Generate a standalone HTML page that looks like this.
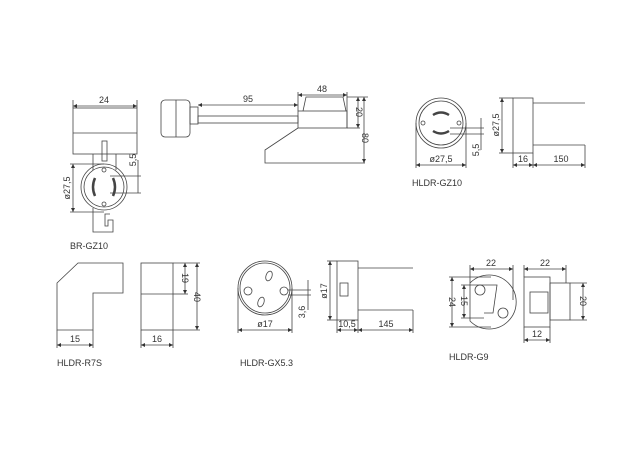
<!DOCTYPE html>
<html><head><style>html,body{margin:0;padding:0;background:#fff;width:640px;height:457px;overflow:hidden}</style></head>
<body>
<svg width="640" height="457" viewBox="0 0 640 457" xmlns="http://www.w3.org/2000/svg" font-family="Liberation Sans, sans-serif" font-size="9" fill="none" stroke="#444" stroke-width="0.8">
<defs><marker id="a" viewBox="0 0 6 6" refX="6" refY="3" markerWidth="5" markerHeight="5" orient="auto-start-reverse"><path d="M0,0L6,3L0,6z" fill="#333" stroke="none"/></marker></defs>
<g>
<!-- BR-GZ10 front -->
<rect x="73" y="108" width="64" height="46"/><line x1="73" y1="133" x2="137" y2="133"/>
<line x1="73" y1="106" x2="137" y2="106" marker-start="url(#a)" marker-end="url(#a)"/>
<line x1="73" y1="100" x2="73" y2="108"/><line x1="137" y1="100" x2="137" y2="108"/>
<rect x="102" y="141" width="5" height="20"/>
<line x1="93" y1="154" x2="93" y2="170"/><line x1="116" y1="154" x2="116" y2="170"/>
<circle cx="104" cy="187" r="23"/><circle cx="104" cy="187" r="20"/>
<path d="M95,178 q-4,9 0,18 M113,178 q4,9 0,18" stroke-width="2.5"/>
<circle cx="104" cy="170" r="2"/><circle cx="104" cy="204" r="2"/>
<path d="M93,208 V232 H113 V220 H108 V226 H105 V214 H110"/>
<line x1="73" y1="164" x2="73" y2="212" marker-start="url(#a)" marker-end="url(#a)"/>
<line x1="70" y1="164" x2="104" y2="164"/><line x1="70" y1="212" x2="104" y2="212"/>
<line x1="138" y1="160" x2="138" y2="193" /><line x1="110" y1="176" x2="141" y2="176"/><line x1="110" y1="193" x2="141" y2="193"/>
<!-- side view -->
<rect x="161" y="100" width="29" height="37" rx="4"/>
<line x1="176" y1="100" x2="176" y2="137"/>
<rect x="190" y="107" width="8" height="17"/>
<rect x="198" y="116" width="100" height="7"/>
<line x1="198" y1="105" x2="298" y2="105" marker-start="url(#a)" marker-end="url(#a)"/>
<path d="M303,111 L306,97 H343 L346,111"/>
<rect x="298" y="111" width="49" height="17"/>
<line x1="298" y1="95" x2="347" y2="95" marker-start="url(#a)" marker-end="url(#a)"/>
<line x1="298" y1="92" x2="298" y2="111"/><line x1="347" y1="92" x2="347" y2="128"/>
<path d="M298,128 L265,150 V163 H365"/>
<line x1="347" y1="97" x2="368" y2="97"/><line x1="347" y1="128" x2="360" y2="128"/>
<line x1="358" y1="97" x2="358" y2="128" marker-start="url(#a)" marker-end="url(#a)"/>
<line x1="364" y1="97" x2="364" y2="163" marker-start="url(#a)" marker-end="url(#a)"/>
<!-- HLDR-GZ10 -->
<circle cx="441" cy="123" r="25"/><circle cx="441" cy="123" r="22"/>
<path d="M433,115 q8,-5 16,0 M433,131 q8,5 16,0" stroke-width="2.5"/>
<circle cx="423" cy="123" r="2"/><circle cx="459" cy="123" r="2"/>
<line x1="416" y1="123" x2="416" y2="168"/><line x1="466" y1="123" x2="466" y2="168"/>
<line x1="416" y1="165" x2="466" y2="165" marker-start="url(#a)" marker-end="url(#a)"/>
<line x1="450" y1="128" x2="484" y2="128"/><line x1="450" y1="134" x2="484" y2="134"/>
<line x1="481" y1="118" x2="481" y2="150"/>
<rect x="513" y="98" width="20" height="55"/>
<line x1="533" y1="103" x2="585" y2="103"/><line x1="533" y1="145" x2="585" y2="145"/>
<line x1="502" y1="98" x2="502" y2="153" marker-start="url(#a)" marker-end="url(#a)"/>
<line x1="499" y1="98" x2="513" y2="98"/><line x1="499" y1="153" x2="513" y2="153"/>
<line x1="513" y1="153" x2="513" y2="168"/><line x1="533" y1="153" x2="533" y2="168"/><line x1="585" y1="145" x2="585" y2="168"/>
<line x1="513" y1="165" x2="533" y2="165" marker-start="url(#a)" marker-end="url(#a)"/>
<line x1="533" y1="165" x2="585" y2="165" marker-start="url(#a)" marker-end="url(#a)"/>
<!-- R7S -->
<path d="M57,283 L78,263 H123 V293 H93 V330 H57 Z"/>
<line x1="57" y1="330" x2="57" y2="348"/><line x1="93" y1="330" x2="93" y2="348"/>
<line x1="57" y1="345" x2="93" y2="345" marker-start="url(#a)" marker-end="url(#a)"/>
<rect x="141" y="263" width="32" height="67"/><line x1="141" y1="294" x2="173" y2="294"/>
<line x1="173" y1="263" x2="200" y2="263"/><line x1="173" y1="294" x2="188" y2="294"/><line x1="173" y1="330" x2="200" y2="330"/>
<line x1="185" y1="263" x2="185" y2="294" marker-start="url(#a)" marker-end="url(#a)"/>
<line x1="197" y1="263" x2="197" y2="330" marker-start="url(#a)" marker-end="url(#a)"/>
<line x1="141" y1="330" x2="141" y2="348"/><line x1="173" y1="330" x2="173" y2="348"/>
<line x1="141" y1="345" x2="173" y2="345" marker-start="url(#a)" marker-end="url(#a)"/>
<!-- GX5.3 -->
<circle cx="265" cy="288" r="27"/><circle cx="265" cy="288" r="25"/>
<circle cx="248" cy="291" r="4"/><circle cx="284" cy="291" r="4"/>
<ellipse cx="269" cy="276" rx="3" ry="5" transform="rotate(20 269 276)"/>
<ellipse cx="261" cy="302" rx="3" ry="5" transform="rotate(20 261 302)"/>
<line x1="238" y1="288" x2="238" y2="333"/><line x1="292" y1="288" x2="292" y2="333"/>
<line x1="238" y1="330" x2="292" y2="330" marker-start="url(#a)" marker-end="url(#a)"/>
<line x1="288" y1="290" x2="311" y2="290"/><line x1="288" y1="295" x2="311" y2="295"/>
<line x1="308" y1="280" x2="308" y2="310"/>
<rect x="337" y="261" width="21" height="59"/><rect x="340" y="283" width="8" height="13"/>
<line x1="358" y1="268" x2="413" y2="268"/><line x1="358" y1="310" x2="413" y2="310"/>
<line x1="330" y1="261" x2="330" y2="320" marker-start="url(#a)" marker-end="url(#a)"/>
<line x1="327" y1="261" x2="337" y2="261"/><line x1="327" y1="320" x2="337" y2="320"/>
<line x1="337" y1="320" x2="337" y2="333"/><line x1="358" y1="320" x2="358" y2="333"/><line x1="413" y1="310" x2="413" y2="333"/>
<line x1="337" y1="330" x2="358" y2="330" marker-start="url(#a)" marker-end="url(#a)"/>
<line x1="358" y1="330" x2="413" y2="330" marker-start="url(#a)" marker-end="url(#a)"/>
<!-- G9 -->
<path d="M470,283 A27,27 0 1 1 470,321 Z"/>
<circle cx="480" cy="290" r="5"/><circle cx="503" cy="313" r="5"/>
<path d="M486,285 H497 L493,313 H484"/>
<line x1="470" y1="269" x2="513" y2="269" marker-start="url(#a)" marker-end="url(#a)"/>
<line x1="470" y1="265" x2="470" y2="283"/><line x1="513" y1="265" x2="513" y2="300"/>
<line x1="452" y1="277" x2="452" y2="327" marker-start="url(#a)" marker-end="url(#a)"/>
<line x1="449" y1="277" x2="491" y2="277"/><line x1="449" y1="327" x2="491" y2="327"/>
<line x1="464" y1="285" x2="464" y2="318" marker-start="url(#a)" marker-end="url(#a)"/>
<line x1="461" y1="285" x2="486" y2="285"/><line x1="461" y1="318" x2="484" y2="318"/>
<rect x="524" y="277" width="26" height="50"/><rect x="550" y="283" width="20" height="37"/><rect x="530" y="292" width="18" height="21"/>
<line x1="524" y1="269" x2="566" y2="269" marker-start="url(#a)" marker-end="url(#a)"/>
<line x1="524" y1="265" x2="524" y2="277"/><line x1="566" y1="265" x2="566" y2="283"/>
<line x1="570" y1="283" x2="587" y2="283"/><line x1="570" y1="320" x2="587" y2="320"/>
<line x1="583" y1="283" x2="583" y2="320" marker-start="url(#a)" marker-end="url(#a)"/>
<line x1="524" y1="327" x2="524" y2="343"/><line x1="550" y1="327" x2="550" y2="343"/>
<line x1="524" y1="340" x2="550" y2="340" marker-start="url(#a)" marker-end="url(#a)"/>
</g>
<g fill="#333" stroke="none">
<text x="104" y="103" text-anchor="middle">24</text>
<text x="248" y="102" text-anchor="middle">95</text>
<text x="322" y="92" text-anchor="middle">48</text>
<text transform="translate(356,112) rotate(90)" text-anchor="middle">20</text>
<text transform="translate(362,138) rotate(90)" text-anchor="middle">80</text>
<text transform="translate(70,188) rotate(-90)" text-anchor="middle">ø27,5</text>
<text transform="translate(136,160) rotate(-90)" text-anchor="middle">5,5</text>
<text x="70" y="249">BR-GZ10</text>
<text x="441" y="162" text-anchor="middle">ø27,5</text>
<text transform="translate(479,150) rotate(-90)" text-anchor="middle">5,5</text>
<text transform="translate(499,125) rotate(-90)" text-anchor="middle">ø27,5</text>
<text x="523" y="162" text-anchor="middle">16</text>
<text x="561" y="162" text-anchor="middle">150</text>
<text x="412" y="186">HLDR-GZ10</text>
<text transform="translate(182,278) rotate(90)" text-anchor="middle">19</text>
<text transform="translate(194,297) rotate(90)" text-anchor="middle">40</text>
<text x="75" y="342" text-anchor="middle">15</text>
<text x="157" y="342" text-anchor="middle">16</text>
<text x="57" y="366">HLDR-R7S</text>
<text x="265" y="327" text-anchor="middle">ø17</text>
<text transform="translate(305,312) rotate(-90)" text-anchor="middle">3,6</text>
<text transform="translate(327,291) rotate(-90)" text-anchor="middle">ø17</text>
<text x="347" y="327" text-anchor="middle">10,5</text>
<text x="386" y="327" text-anchor="middle">145</text>
<text x="240" y="366">HLDR-GX5.3</text>
<text x="491" y="266" text-anchor="middle">22</text>
<text x="545" y="266" text-anchor="middle">22</text>
<text transform="translate(449,302) rotate(90)" text-anchor="middle">24</text>
<text transform="translate(461,301) rotate(90)" text-anchor="middle">15</text>
<text transform="translate(580,301) rotate(90)" text-anchor="middle">20</text>
<text x="537" y="337" text-anchor="middle">12</text>
<text x="449" y="360">HLDR-G9</text>
</g>
</svg>
</body></html>
